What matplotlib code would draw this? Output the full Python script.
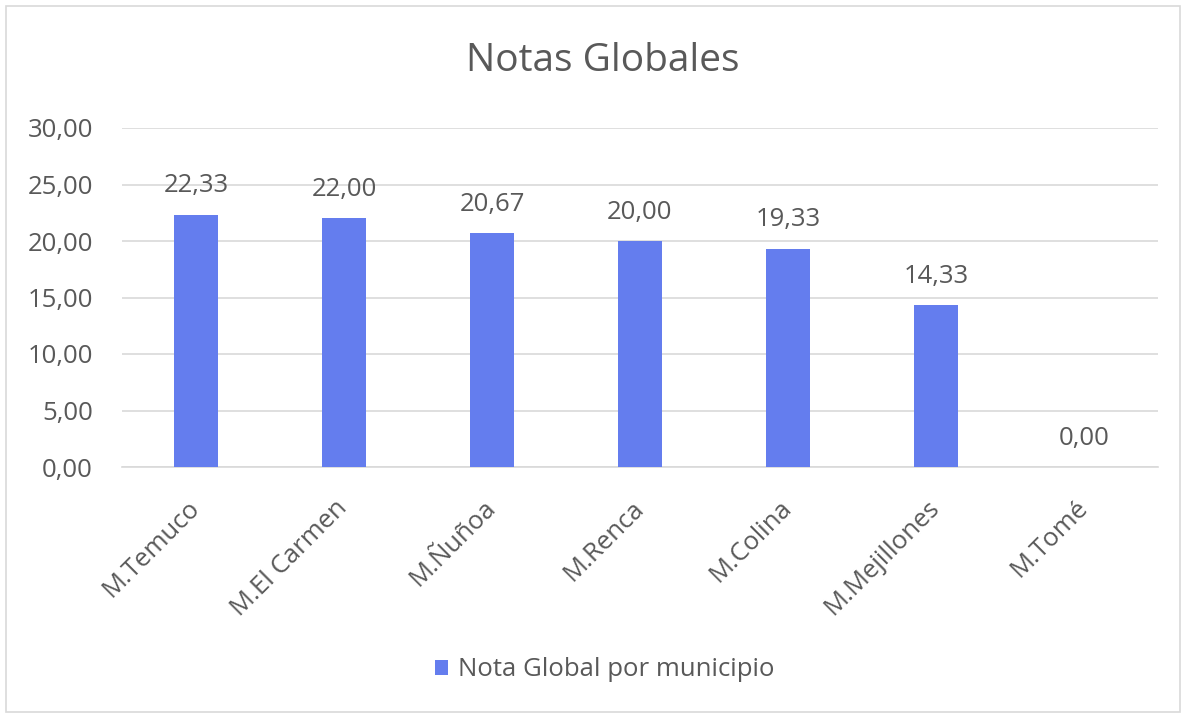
import matplotlib
matplotlib.use("Agg")
import matplotlib.pyplot as plt
from matplotlib.patches import Rectangle
from matplotlib.transforms import ScaledTranslation

categories = ["M.Temuco", "M.El Carmen", "M.Ñuñoa", "M.Renca", "M.Colina", "M.Mejillones", "M.Tomé"]
values = [22.33, 22.00, 20.67, 20.00, 19.33, 14.33, 0.00]
yticks = [0, 5, 10, 15, 20, 25, 30]
series_name = "Nota Global por municipio"
title = "Notas Globales"

plt.rcParams['font.family'] = ['Open Sans', 'DejaVu Sans']
txt = '#595959'
bar_color = '#647DEE'
fs = 18.5

fig = plt.figure(figsize=(11.87, 7.17), dpi=100)
fig.patches.append(Rectangle((6/1187, 1-712/717), 1174/1187, 706/717, transform=fig.transFigure,
                             fill=False, edgecolor='#D9D9D9', linewidth=1.2))
ax = fig.add_axes([122/1187, 1-467/717, 1036/1187, 339/717])
x = list(range(len(categories)))
bars = ax.bar(x, values, width=0.3, color=bar_color, zorder=3, label=series_name)
ax.set_xlim(-0.5, len(categories)-0.5)
ax.set_ylim(0, 30)
ax.set_yticks(yticks)
ax.set_yticklabels([f"{v:.2f}".replace('.', ',') for v in yticks], color=txt, fontsize=fs)
ax.yaxis.grid(True, color='#D9D9D9', linewidth=1.2, zorder=0)
ax.tick_params(axis='y', length=0, pad=21)
ax.tick_params(axis='x', length=0, pad=27)
ax.set_xticks(x)
labels = ax.set_xticklabels(categories, rotation=45, ha='right', va='center',
                            rotation_mode='anchor', color=txt, fontsize=fs)
shift = ScaledTranslation(0/100, 0, fig.dpi_scale_trans)
for lab in labels:
    lab.set_transform(lab.get_transform() + shift)
for s in ['top', 'right', 'left']:
    ax.spines[s].set_visible(False)
ax.spines['bottom'].set_color('#D9D9D9')
ax.spines['bottom'].set_linewidth(1.2)

for xi, v in zip(x, values):
    ax.annotate(f"{v:.2f}".replace('.', ','), (xi, v), xytext=(0, 16), textcoords='offset points',
                ha='center', va='baseline', color=txt, fontsize=fs)

fig.text(603/1187, 1-71/717, title, ha='center', va='baseline', fontsize=28, color=txt)
fig.legend(handles=[bars], labels=[series_name], loc='center', bbox_to_anchor=(605/1187, 1-670/717),
           frameon=False, fontsize=fs, labelcolor=txt, handlelength=0.5, handleheight=0.5,
           handletextpad=0.4)
fig.savefig("out.png", dpi=100)
